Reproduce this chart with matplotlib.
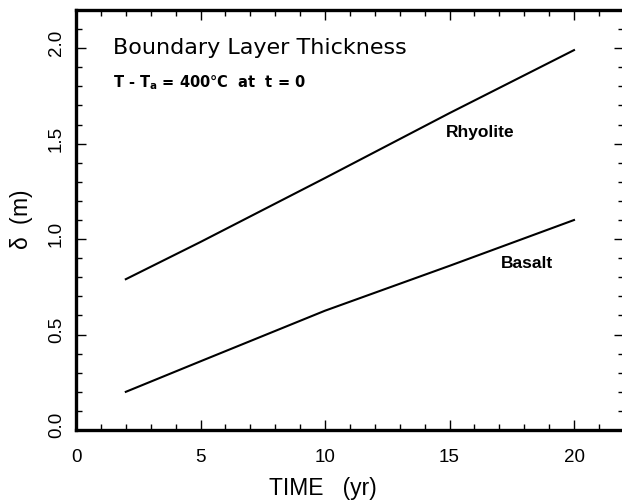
import matplotlib
matplotlib.use("Agg")
import matplotlib.pyplot as plt
from matplotlib.ticker import MultipleLocator, FormatStrFormatter
from matplotlib.transforms import ScaledTranslation

# Boundary layer thickness vs time, read at t = 2, 5, 10, 15, 20 yr
time_yr = [2, 5, 10, 15, 20]
rhyolite_m = [0.79, 0.985, 1.32, 1.66, 1.99]
basalt_m = [0.20, 0.36, 0.625, 0.86, 1.10]

plt.rcParams["font.family"] = ["Liberation Sans", "DejaVu Sans"]
plt.rcParams["mathtext.default"] = "regular"

fig = plt.figure(figsize=(6.22, 5.04), dpi=100)
ax = fig.add_axes([0.1222, 0.1468, 0.8807, 0.8333])

ax.plot(time_yr, rhyolite_m, color="black", lw=1.5)
ax.plot(time_yr, basalt_m, color="black", lw=1.5)

ax.set_xlim(0, 22)
ax.set_ylim(0, 2.2)

ax.xaxis.set_major_locator(MultipleLocator(5))
ax.xaxis.set_minor_locator(MultipleLocator(1))
ax.yaxis.set_major_locator(MultipleLocator(0.5))
ax.yaxis.set_minor_locator(MultipleLocator(0.1))
ax.yaxis.set_major_formatter(FormatStrFormatter("%.1f"))

ax.tick_params(which="both", direction="in", top=True, right=True, width=1.0)
ax.tick_params(which="major", length=7.5, labelsize=13.5)
ax.tick_params(which="minor", length=4.5)
ax.tick_params(axis="x", which="major", pad=14)
ax.tick_params(axis="y", which="major", pad=8)

# rotated y labels sit a little above their ticks
nudge = ScaledTranslation(0, 5 / 100, fig.dpi_scale_trans)
for tick in ax.yaxis.get_major_ticks():
    tick.label1.set_rotation(90)
    tick.label1.set_va("center")
    tick.label1.set_transform(tick.label1.get_transform() + nudge)

for spine in ax.spines.values():
    spine.set_linewidth(2.4)

ax.set_xlabel("TIME   (yr)", fontsize=16.5)
ax.xaxis.set_label_coords(0.451, -0.113)
ax.set_ylabel(r"$\delta$  (m)", fontsize=16.5, va="center")
ax.yaxis.set_label_coords(-0.099, 0.5)

ax.text(1.5, 2.0, "Boundary Layer Thickness", fontsize=16,
        family="DejaVu Sans", va="center")
ax.text(1.5, 1.82, "T - T$_a$ = 400°C  at  t = 0", fontsize=10.5,
        family="DejaVu Sans", fontweight="bold", va="center")
ax.text(14.85, 1.56, "Rhyolite", fontsize=12.5, fontweight="bold", va="center")
ax.text(17.05, 0.87, "Basalt", fontsize=12.5, fontweight="bold", va="center")

fig.savefig("out.png", dpi=100)
